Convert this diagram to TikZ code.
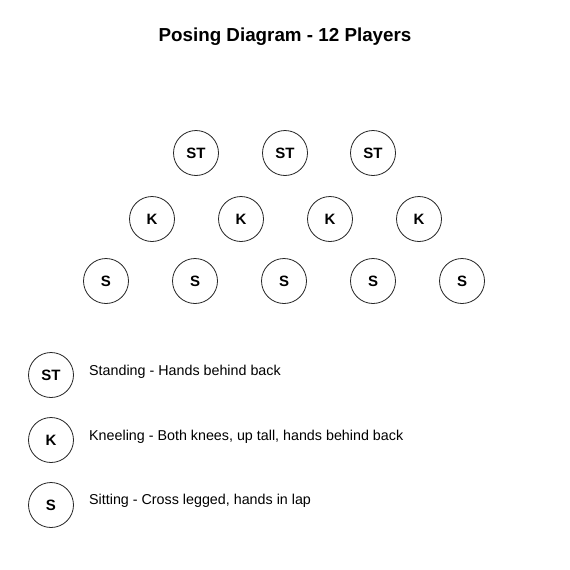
\documentclass[tikz,border=0pt]{standalone}
\usepackage{fontspec}
\setmainfont{Liberation Sans}
\begin{document}
\begin{tikzpicture}[x=1pt,y=-1pt,
  player/.style={circle,draw=black!85,line width=0.8pt,minimum size=45pt,inner sep=0pt,font=\fontsize{15}{18}\selectfont\bfseries},
  legtext/.style={anchor=west,inner sep=0pt,font=\fontsize{14.3}{17}\selectfont}]
\useasboundingbox[fill=white] (0,0) rectangle (570,570);
\node[font=\fontsize{18.8}{22}\selectfont\bfseries] (title) at (285,37) {Posing Diagram - 12 Players};
\node[player] (st1) at (196,153) {ST};
\node[player] (st2) at (285,153) {ST};
\node[player] (st3) at (373,153) {ST};
\node[player] (k1) at (152,219) {K};
\node[player] (k2) at (241,219) {K};
\node[player] (k3) at (330,219) {K};
\node[player] (k4) at (419,219) {K};
\node[player] (s1) at (106,281) {S};
\node[player] (s2) at (195,281) {S};
\node[player] (s3) at (284,281) {S};
\node[player] (s4) at (373,281) {S};
\node[player] (s5) at (462,281) {S};
\node[player] (lst) at (51,375) {ST};
\node[player] (lk) at (51,440) {K};
\node[player] (ls) at (51,505) {S};
\node[legtext] (tst) at (89,372) {Standing - Hands behind back};
\node[legtext] (tk) at (89,437) {Kneeling - Both knees, up tall, hands behind back};
\node[legtext] (ts) at (89,501) {Sitting - Cross legged, hands in lap};
\end{tikzpicture}
\end{document}
